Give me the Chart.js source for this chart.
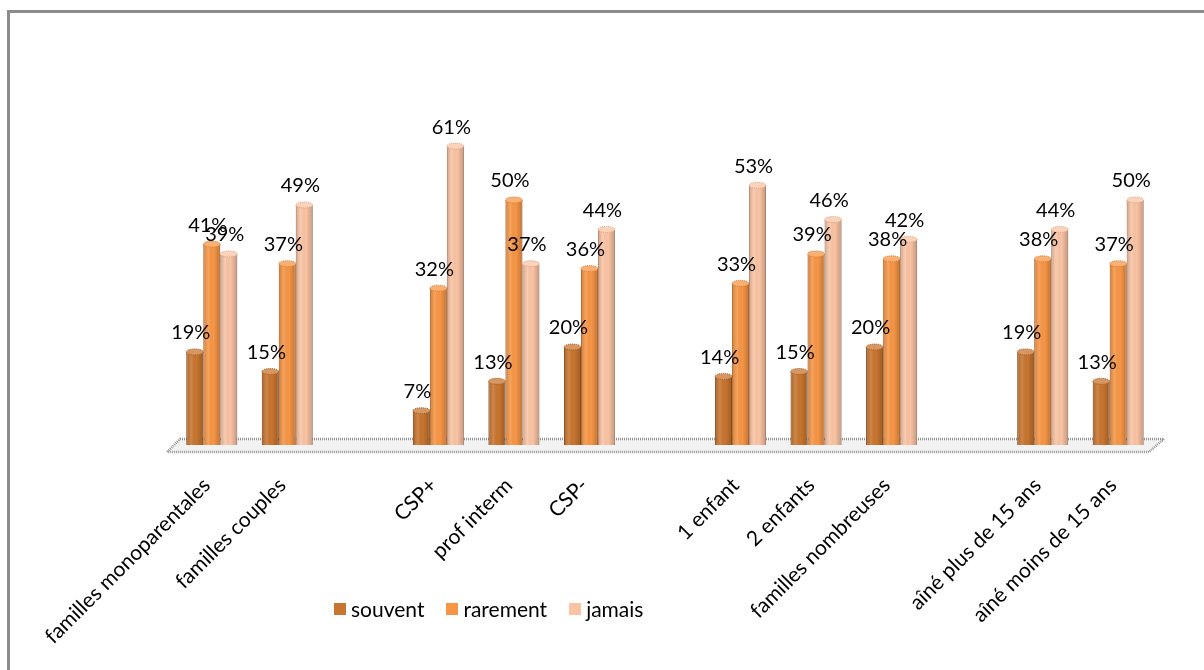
<!DOCTYPE html>
<html>
<head>
<meta charset="utf-8">
<script src="https://cdn.jsdelivr.net/npm/chart.js@4.4.1/dist/chart.umd.min.js"></script>
<style>
  body { margin: 0; background: #fff; }
  #wrap { position: relative; width: 1204px; height: 670px; }
  #legend { position: absolute; left: 334px; top: 596px; display: flex; font: 21px Lato, sans-serif; color: #000; }
  #legend .item { display: flex; align-items: center; margin-right: 22px; }
  #legend .box { width: 12px; height: 12px; margin-right: 5px; }
</style>
</head>
<body>
<div id="wrap">
  <canvas id="myChart" width="1204" height="670"></canvas>
  <div id="legend"></div>
</div>
<script>
// groups are separated by an empty category
var categories = ['familles monoparentales', 'familles couples', '', 'CSP+', 'prof interm', 'CSP-', '',
  '1 enfant', '2 enfants', 'familles nombreuses', '', 'aîné plus de 15 ans', 'aîné moins de 15 ans'];
var souvent  = [19, 15, null, 7, 13, 20, null, 14, 15, 20, null, 19, 13];
var rarement = [41, 37, null, 32, 50, 36, null, 33, 39, 38, null, 38, 37];
var jamais   = [39, 49, null, 61, 37, 44, null, 53, 46, 42, null, 44, 50];
var seriesNames = ['souvent', 'rarement', 'jamais'];
var seriesColors = ['#c8752f', '#f79646', '#fac4a4'];
var edgeColors = ['#a35a22', '#d97a2c', '#dca183'];

// gray frame on the left and top
var framePlugin = {
  id: 'frame',
  beforeDraw: function(chart) {
    var ctx = chart.ctx;
    ctx.save();
    ctx.strokeStyle = '#8c8c8c';
    ctx.lineWidth = 3;
    ctx.beginPath();
    ctx.moveTo(8.5, chart.height);
    ctx.lineTo(8.5, 11.5);
    ctx.lineTo(chart.width, 11.5);
    ctx.stroke();
    ctx.restore();
  }
};

// the floor plate under the bars
var floorPlugin = {
  id: 'floor',
  beforeDatasetsDraw: function(chart) {
    var ctx = chart.ctx;
    var area = chart.chartArea;
    var base = chart.scales.y.getPixelForValue(0);
    ctx.save();
    ctx.beginPath();
    ctx.moveTo(area.left + 6, base - 6);
    ctx.lineTo(area.right + 8, base - 6);
    ctx.lineTo(area.right - 7, base + 7);
    ctx.lineTo(area.left - 7, base + 7);
    ctx.closePath();
    ctx.fillStyle = '#f2f2f2';
    ctx.fill();
    ctx.setLineDash([1, 1]);
    ctx.lineWidth = 2.5;
    ctx.strokeStyle = '#959595';
    ctx.stroke();
    ctx.restore();
  }
};

// round shading and caps, then the value labels
var barLookPlugin = {
  id: 'barLook',
  afterDatasetsDraw: function(chart) {
    var ctx = chart.ctx;
    chart.data.datasets.forEach(function(ds, di) {
      var meta = chart.getDatasetMeta(di);
      meta.data.forEach(function(el, i) {
        if (ds.data[i] == null) return;
        var x0 = el.x - el.width / 2, w = el.width;
        var g = ctx.createLinearGradient(x0, 0, x0 + w, 0);
        g.addColorStop(0, 'rgba(0,0,0,0.18)');
        g.addColorStop(0.3, 'rgba(255,255,255,0.12)');
        g.addColorStop(0.6, 'rgba(0,0,0,0)');
        g.addColorStop(1, 'rgba(0,0,0,0.22)');
        ctx.save();
        ctx.fillStyle = g;
        ctx.fillRect(x0, el.y, w, el.base - el.y);
        ctx.beginPath();
        ctx.ellipse(el.x, el.y, w / 2, 3, 0, 0, Math.PI * 2);
        ctx.fillStyle = seriesColors[di];
        ctx.fill();
        ctx.fillStyle = 'rgba(255,255,255,0.25)';
        ctx.fill();
        ctx.setLineDash([1, 1]);
        ctx.strokeStyle = edgeColors[di];
        ctx.lineWidth = 1;
        ctx.stroke();
        ctx.restore();
      });
    });
    ctx.save();
    ctx.font = '20px Lato';
    ctx.fillStyle = '#000';
    ctx.textAlign = 'center';
    ctx.textBaseline = 'middle';
    chart.data.datasets.forEach(function(ds, di) {
      var meta = chart.getDatasetMeta(di);
      meta.data.forEach(function(el, i) {
        if (ds.data[i] == null) return;
        ctx.fillText(ds.data[i] + '%', el.x - 4, el.y - 19);
      });
    });
    ctx.restore();
  }
};

function draw() {
  var datasets = [souvent, rarement, jamais].map(function(values, i) {
    return {
      label: seriesNames[i],
      data: values,
      backgroundColor: seriesColors[i],
      borderColor: edgeColors[i],
      borderWidth: 1,
      barPercentage: 1,
      categoryPercentage: 0.675
    };
  });

  var ctx = document.getElementById('myChart').getContext('2d');
  var chart = new Chart(ctx, {
    type: 'bar',
    data: { labels: categories, datasets: datasets },
    options: {
      responsive: false,
      animation: false,
      layout: { padding: { left: 174, right: 48, top: 102, bottom: 0 } },
      plugins: {
        legend: { display: false },
        tooltip: { enabled: false }
      },
      scales: {
        x: {
          grid: { display: false, drawTicks: false },
          border: { display: false },
          ticks: {
            autoSkip: false,
            minRotation: 45,
            maxRotation: 45,
            padding: 28,
            labelOffset: -5,
            color: '#000',
            font: { family: 'Lato', size: 21 }
          },
          afterFit: function(scale) { scale.height = 225; }
        },
        y: {
          display: false,
          min: 0,
          max: 70
        }
      }
    },
    plugins: [framePlugin, floorPlugin, barLookPlugin]
  });

  // legend built from the datasets
  var legend = document.getElementById('legend');
  chart.data.datasets.forEach(function(ds) {
    var item = document.createElement('span');
    item.className = 'item';
    var box = document.createElement('span');
    box.className = 'box';
    box.style.background = ds.backgroundColor;
    item.appendChild(box);
    item.appendChild(document.createTextNode(ds.label));
    legend.appendChild(item);
  });
}

document.fonts.load('21px Lato').then(draw, draw);
</script>
</body>
</html>
